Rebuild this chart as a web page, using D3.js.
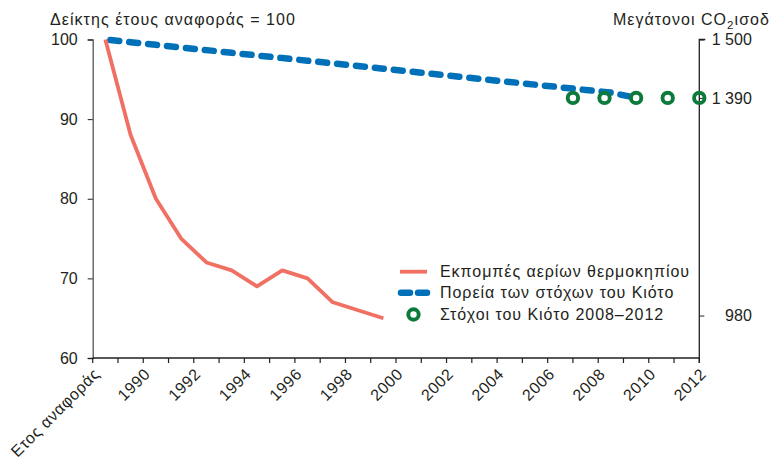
<!DOCTYPE html>
<html>
<head>
<meta charset="utf-8">
<script src="https://cdn.jsdelivr.net/npm/d3@7"></script>
<style>
  html, body { margin: 0; padding: 0; background: #fff; }
  svg { display: block; }
  text { font-family: "Liberation Sans", Arial, sans-serif; fill: #231f20; }
</style>
</head>
<body>
<svg id="chart" width="772" height="459"></svg>
<script>
// ---- Data ----
const categories = ["Ετος αναφοράς", "1990", "1991", "1992", "1993", "1994", "1995", "1996", "1997", "1998", "1999", "2000",
  "2001", "2002", "2003", "2004", "2005", "2006", "2007", "2008", "2009", "2010", "2011", "2012"];
const xTickLabels = ["Ετος αναφοράς", "1990", "1992", "1994", "1996", "1998", "2000", "2002", "2004", "2006", "2008", "2010", "2012"];
const emissionsIndex = [100, 88, 80, 75, 72, 71, 69, 71, 70, 67, 66, 65];           // base year .. 2000
const kyotoPath = [1500, 1495, 1490, 1485, 1480, 1475, 1470, 1465, 1460, 1455, 1450,
  1445, 1440, 1435, 1430, 1425, 1420, 1415, 1410, 1405, 1400, 1390];                 // base year .. 2010
const kyotoTargetYears = [2008, 2009, 2010, 2011, 2012];
const kyotoTargetValues = [1390, 1390, 1390, 1390, 1390];
const leftTicks = [60, 70, 80, 90, 100];
const rightTicks = [1500, 1390, 980];
const rightTickLabels = ["1 500", "1 390", "980"];
const legendLabels = ["Εκπομπές αερίων θερμοκηπίου", "Πορεία των στόχων του Κιότο", "Στόχοι του Κιότο 2008–2012"];

const colors = { red: "#f07063", blue: "#0071b8", green: "#0b7a3a" };

// ---- Layout ----
const svg = d3.select("#chart");
const plot = { left: 92.7, right: 699.3, top: 39.5, bottom: 358 };
const FS = 16;

const x = d3.scaleBand().domain(categories).range([plot.left, plot.right]).paddingInner(0).paddingOuter(0);
const yL = d3.scaleLinear().domain([60, 100]).range([plot.bottom, plot.top]);
const yR = d3.scaleLinear().domain([900, 1500]).range([plot.bottom, plot.top]);
const xc = c => x(c) + x.bandwidth() / 2;
const xTarget = d3.scaleLinear().domain([2008, 2012]).range([x("2008"), x("2012") + x.bandwidth()]);

// ---- Axes ----
const gL = svg.append("g").attr("transform", `translate(${plot.left},0)`)
  .call(d3.axisLeft(yL).tickValues(leftTicks).tickSize(5).tickPadding(10).tickFormat(d3.format("d")));
gL.select(".domain").attr("stroke", "#555").attr("stroke-width", 1.3);
gL.selectAll(".tick line").attr("stroke", "#231f20");
gL.selectAll(".tick text").attr("font-size", FS).attr("font-family", "Liberation Sans, Arial, sans-serif").attr("fill", "#231f20");

const gR = svg.append("g").attr("transform", `translate(${plot.right},0)`)
  .call(d3.axisRight(yR).tickValues(rightTicks).tickSize(5).tickPadding(0).tickFormat((d, i) => rightTickLabels[i]));
gR.select(".domain").attr("stroke", "#231f20").attr("stroke-width", 1.3).attr("d", `M6,${plot.top}H0V${plot.bottom + 5}`);
gR.selectAll(".tick line").attr("stroke", "#231f20");
gR.selectAll(".tick text").attr("font-size", FS).attr("font-family", "Liberation Sans, Arial, sans-serif")
  .attr("fill", "#231f20").attr("text-anchor", "end").attr("x", 52.5);

const boundaries = categories.map(c => x(c)).concat([plot.right]);
const gB = svg.append("g");
gB.append("line").attr("x1", plot.left).attr("x2", plot.right).attr("y1", plot.bottom).attr("y2", plot.bottom)
  .attr("stroke", "#231f20").attr("stroke-width", 1.3);
gB.selectAll("line.tk").data(boundaries).join("line").attr("class", "tk")
  .attr("x1", d => d).attr("x2", d => d).attr("y1", plot.bottom).attr("y2", plot.bottom + 5)
  .attr("stroke", "#231f20").attr("stroke-width", 1.2);
gB.selectAll("text").data(xTickLabels).join("text")
  .attr("transform", (d, i) => {
    const px = i === 0 ? x(d) : x(d) + x.bandwidth();
    return `translate(${px + 4},${plot.bottom + 13}) rotate(-45)`;
  })
  .attr("text-anchor", "end")
  .attr("font-family", "'Open Sans', 'Liberation Sans', sans-serif")
  .attr("font-size", 16)
  .attr("letter-spacing", 0.6)
  .attr("dy", "0.35em")
  .text(d => d);

// ---- Titles ----
svg.append("text").attr("x", 50).attr("y", 25).attr("font-size", FS).attr("letter-spacing", 1.05)
  .text("Δείκτης έτους αναφοράς = 100");
const rt = svg.append("text").attr("x", 770).attr("y", 25).attr("font-size", FS).attr("letter-spacing", 1.05)
  .attr("text-anchor", "end");
rt.append("tspan").text("Μεγάτονοι CO");
rt.append("tspan").attr("font-size", 11.5).attr("dy", 4).text("2");
rt.append("tspan").attr("dy", -4).text("ισοδ");

// ---- Series ----
const kyotoCats = categories.slice(0, kyotoPath.length);
svg.append("path")
  .datum(kyotoPath.map((v, i) => [kyotoCats[i], v]))
  .attr("fill", "none").attr("stroke", colors.blue).attr("stroke-width", 6.5)
  .attr("stroke-linecap", "round").attr("stroke-dasharray", "9,10").attr("stroke-dashoffset", -5)
  .attr("d", d3.line().x(d => xc(d[0])).y(d => yR(d[1])));

const emCats = categories.slice(0, emissionsIndex.length);
svg.append("path")
  .datum(emissionsIndex.map((v, i) => [emCats[i], v]))
  .attr("fill", "none").attr("stroke", colors.red).attr("stroke-width", 3.8)
  .attr("stroke-linejoin", "round")
  .attr("d", d3.line().x(d => xc(d[0])).y(d => yL(d[1])));

svg.selectAll("circle.target").data(kyotoTargetYears).join("circle").attr("class", "target")
  .attr("cx", d => xTarget(d)).attr("cy", (d, i) => yR(kyotoTargetValues[i])).attr("r", 5.2)
  .attr("fill", "none").attr("stroke", colors.green).attr("stroke-width", 3.9);

// ---- Legend ----
const lg = svg.append("g");
const ly = [271.7, 292.7, 314.5];
lg.append("line").attr("x1", 400).attr("x2", 427).attr("y1", ly[0]).attr("y2", ly[0])
  .attr("stroke", colors.red).attr("stroke-width", 3.8);
lg.append("line").attr("x1", 401).attr("x2", 427).attr("y1", ly[1]).attr("y2", ly[1])
  .attr("stroke", colors.blue).attr("stroke-width", 6.5).attr("stroke-linecap", "round").attr("stroke-dasharray", "9,8");
lg.append("circle").attr("cx", 413.5).attr("cy", ly[2]).attr("r", 5.2)
  .attr("fill", "none").attr("stroke", colors.green).attr("stroke-width", 3.9);
lg.selectAll("text").data(legendLabels).join("text")
  .attr("x", 440).attr("y", (d, i) => ly[i]).attr("dy", "0.35em").attr("font-size", FS)
  .attr("letter-spacing", 0.95).text(d => d);
</script>
</body>
</html>
